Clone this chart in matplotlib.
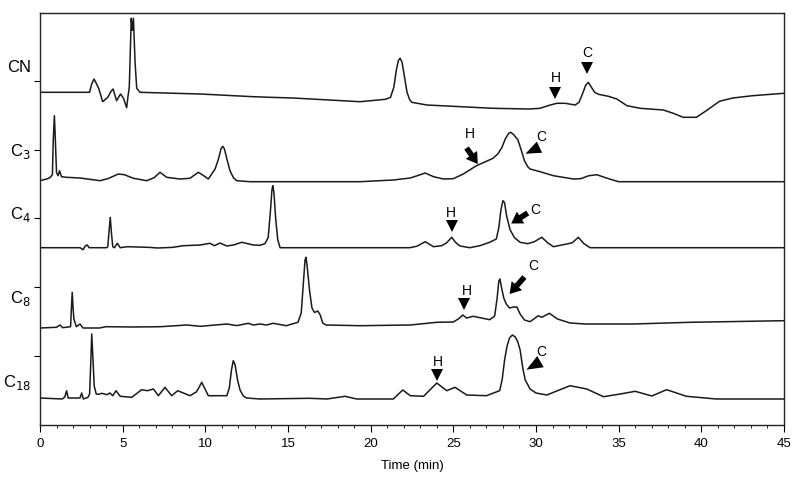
import matplotlib
matplotlib.use("Agg")
import matplotlib.pyplot as plt
import numpy as np

plt.rcParams['font.family'] = ['Liberation Sans', 'DejaVu Sans']

# column names, baselines (stack offsets) and y tick positions
labels = ["CN", "C$_3$", "C$_4$", "C$_8$", "C$_{18}$"]
baselines = [332.7, 244.3, 177.3, 97.0, 27.0]
label_y = [354, 270, 207, 123, 39]
ytick_pos = [344, 275, 207, 138, 69]

# traces: (time in min, signal above baseline)
cn = [(0, 0), (3.0, 0), (3.12, 8), (3.27, 13.3), (3.4, 9), (3.55, 4), (3.79, -9.4),
      (4.1, -5), (4.3, 1), (4.42, 3.3), (4.63, -8.4), (4.87, -1.7), (5.05, -6),
      (5.24, -15.4), (5.33, -3), (5.40, 5), (5.46, 40), (5.52, 74), (5.58, 62),
      (5.65, 74), (5.75, 30), (5.85, 4), (6.05, 0), (9.68, -1.7), (12.9, -4.4),
      (13.9, -5), (15.3, -5.7), (19.36, -9.4), (20.9, -7), (21.2, -5), (21.4, 5),
      (21.55, 22), (21.68, 32), (21.78, 34), (21.9, 30), (22.02, 18), (22.2, 0),
      (22.35, -7), (22.48, -10), (23.4, -12.7), (27.4, -16), (29.6, -16.7),
      (30.25, -16), (30.8, -13), (31.26, -11), (31.76, -11), (32.37, -12.7),
      (32.6, -10), (32.85, 0), (33.0, 7), (33.17, 10), (33.35, 5), (33.55, 0),
      (33.78, -2), (34.38, -4), (34.89, -6.7), (35.5, -13.4), (36.3, -16),
      (37.7, -17.7), (38.3, -21), (38.9, -25), (39.7, -25), (40.3, -18.4),
      (41.1, -9), (41.9, -5.7), (43.1, -3.4), (45, -1)]

c3 = [(0, 0), (0.4, 1.7), (0.6, 3), (0.75, 6), (0.8, 40), (0.87, 65), (0.93, 40),
      (1.0, 8), (1.1, 5), (1.18, 10), (1.3, 4), (1.6, 3.4), (2.42, 2.7), (3.63, 0),
      (4.1, 2), (4.74, 6.7), (5.1, 6), (5.65, 2.4), (6.45, 0), (6.9, 3), (7.26, 8.4),
      (7.66, 3.4), (8.47, 1.7), (9.07, 2.4), (9.58, 8.4), (9.9, 5), (10.18, 1.7),
      (10.59, 11.7), (10.8, 22), (10.95, 32), (11.05, 34.4), (11.15, 32),
      (11.3, 22), (11.49, 10), (11.7, 3), (11.9, 0), (12.7, -1), (19.36, -1),
      (21.37, 0.7), (22.4, 2.7), (23.0, 6), (23.3, 7.7), (23.8, 4), (24.4, 1.7),
      (25.0, 2), (25.6, 6.7), (26.4, 15), (27.4, 22.4), (27.7, 27), (27.93, 33),
      (28.15, 42), (28.35, 47.5), (28.47, 48.4), (28.65, 46), (28.9, 41),
      (29.1, 31), (29.3, 20), (29.5, 14), (29.64, 11.7), (30.25, 9), (31.05, 5),
      (32.26, 1.7), (32.7, 2), (33.2, 5), (33.68, 6), (34.2, 3), (34.99, -1),
      (45, -1)]

c4 = [(0, 0), (2.42, 0), (2.6, -2), (2.75, 2), (2.86, 2.7), (2.97, 0), (4.03, 0),
      (4.1, 1), (4.17, 15), (4.25, 30.4), (4.32, 15), (4.4, 1), (4.5, 0),
      (4.68, 4.4), (4.85, 0), (5.3, 1), (6.65, 0.3), (7.1, -0.3), (8.0, 0.3),
      (8.67, 2), (9.68, 2.7), (10.28, 4.4), (10.55, 2), (10.89, 4.7), (11.3, 1.7),
      (11.7, 2.7), (12.2, 5.4), (12.9, 2.7), (13.3, 2.4), (13.6, 4), (13.8, 10),
      (13.93, 35), (14.03, 58), (14.08, 62), (14.15, 55), (14.25, 30), (14.38, 8),
      (14.52, 0), (22.38, 0), (22.8, 1.5), (23.3, 6), (23.6, 3), (23.8, 1),
      (24.3, 2), (24.6, 5), (24.9, 10.4), (25.15, 5), (25.4, 1.7), (26.0, 0),
      (26.6, 2), (27.2, 5.4), (27.6, 8.7), (27.75, 20), (27.88, 38), (28.0, 47),
      (28.1, 45), (28.22, 32), (28.43, 18), (28.7, 10), (29.04, 5.4), (29.5, 4),
      (29.9, 6), (30.35, 10.4), (30.7, 5), (31.05, 1), (31.86, 3.7), (32.2, 5),
      (32.56, 10.4), (32.9, 4), (33.27, 0), (45, 0)]

c8 = [(0, 0), (1.0, 0.7), (1.21, 3), (1.37, 0.3), (1.85, 1.3), (1.9, 20),
      (1.95, 35.7), (2.0, 20), (2.05, 9), (2.2, 1.3), (2.42, 4), (2.6, 0),
      (3.6, 0), (4.0, 1.3), (5.65, 1), (7.3, 1.3), (8.87, 3), (9.7, 1.7),
      (11.3, 4), (11.9, 2.4), (12.6, 4.7), (12.9, 3), (13.3, 4), (13.7, 3),
      (14.1, 4.7), (14.9, 2.3), (15.6, 5.7), (15.8, 15), (15.93, 45), (16.03, 68),
      (16.09, 70.7), (16.17, 60), (16.3, 38), (16.45, 20), (16.6, 15.5),
      (16.8, 17), (16.95, 13), (17.1, 5), (17.3, 3), (19.36, 2.3), (22.4, 3),
      (24.0, 5.7), (25.0, 6), (25.3, 9), (25.57, 13), (25.8, 10), (26.2, 11.7),
      (27.2, 8.3), (27.5, 12), (27.65, 30), (27.75, 47), (27.82, 49), (27.92, 40),
      (28.05, 30), (28.2, 24), (28.4, 20), (28.65, 21), (28.84, 21), (29.04, 14),
      (29.3, 8), (29.64, 6.3), (30.14, 12.3), (30.35, 10.7), (30.81, 14.7),
      (31.3, 9), (32.06, 5), (33.0, 4), (35.9, 4), (39.3, 5.7), (45, 7.3)]

c18 = [(0, 0), (1.35, -1), (1.5, 1), (1.61, 7.3), (1.7, 0), (2.42, 0), (2.52, 5),
       (2.62, -1), (2.9, 0.7), (3.0, 4), (3.07, 35), (3.13, 64), (3.2, 40),
       (3.28, 12), (3.4, 4), (3.55, 3.7), (3.73, 4.7), (4.05, 3.3), (4.23, 5),
       (4.4, 2.3), (4.6, 7.3), (4.85, 1.7), (5.55, 0.7), (6.15, 8.3), (6.5, 7.3),
       (6.86, 9), (7.16, 2.3), (7.56, 10.7), (7.96, 2.3), (8.33, 7.3), (9.07, 2.3),
       (9.45, 6), (9.6, 10), (9.78, 15.7), (9.95, 10), (10.18, 2.3), (11.3, 2.3),
       (11.45, 10), (11.58, 28), (11.69, 37.3), (11.8, 33), (11.95, 18), (12.1, 8),
       (12.3, 2), (12.5, 0), (13.3, -1), (16.3, -0.3), (17.35, -1), (18.45, 1.7),
       (19.16, -1), (21.37, -1), (21.94, 8), (22.4, 2.3), (23.2, 1.7), (24.0, 15),
       (24.6, 7.3), (25.1, 10.7), (25.81, 3), (27.0, 2.3), (27.8, 7.3),
       (27.95, 18), (28.1, 38), (28.25, 52), (28.4, 60), (28.57, 63), (28.75, 61),
       (28.9, 56), (29.04, 48), (29.2, 30), (29.35, 18), (29.64, 9), (30.0, 5),
       (30.65, 3), (32.06, 12.3), (33.07, 9), (34.08, 1.3), (35.09, 4), (36.0, 6.7),
       (37.0, 2), (37.9, 8.3), (39.1, 1.7), (40.9, -1), (45, -1)]

traces = [cn, c3, c4, c8, c18]

# peak markers: (time, y) of the triangles / arrows and their letter
tri_down = [(31.16, 332), (33.07, 357), (24.9, 198.7), (25.65, 121), (24.03, 50.3)]
tri_dl = [(29.85, 276, 205), (29.95, 61, 210)]
arrows = [((25.8, 277), (26.48, 261)), ((29.5, 212), (28.5, 201.5)),
          ((29.3, 148), (28.4, 131))]
letters = [("H", 31.2, 347.7), ("C", 33.13, 373.3), ("H", 26.0, 291.7),
           ("C", 30.3, 288.7), ("H", 24.86, 213.3), ("C", 29.95, 216),
           ("H", 25.81, 135), ("C", 29.84, 160), ("H", 24.06, 63.7),
           ("C", 30.3, 74.3)]


def pointer(deg):
    # isosceles triangle with its tip pointing towards angle deg
    a = np.deg2rad(deg)
    d = np.array([np.cos(a), np.sin(a)])
    p = np.array([-d[1], d[0]])
    tip = d * 1.0
    back = -d * 0.55
    return [tuple(tip), tuple(back + p * 0.62), tuple(back - p * 0.62), tuple(tip)]


fig = plt.figure(figsize=(7.95, 4.81), dpi=100)
ax = fig.add_axes([40 / 795, 55 / 481, 744 / 795, 412 / 481])

for tr, base in zip(traces, baselines):
    arr = np.array(tr)
    ax.plot(arr[:, 0], arr[:, 1] + base, color='#1a1a1a', lw=1.1)

for t, y in tri_down:
    ax.plot(t, y, marker='v', ms=9, color='black', mew=0)
for t, y, deg in tri_dl:
    ax.plot(t, y, marker=pointer(deg), ms=13, color='black', mew=0)
for (t0, y0), (t1, y1) in arrows:
    ax.annotate('', xy=(t1, y1), xytext=(t0, y0),
                arrowprops=dict(arrowstyle='simple,head_width=1.0,head_length=0.8,tail_width=0.4',
                                color='black', lw=0, shrinkA=0, shrinkB=0))
for s, t, y in letters:
    ax.text(t, y, s, ha='center', va='center', fontsize=10)

trans = ax.get_yaxis_transform()
for lab, y in zip(labels, label_y):
    ax.text(-0.012, y, lab, transform=trans, ha='right', va='baseline', fontsize=12)

ax.set_xlim(0, 45)
ax.set_ylim(0, 412)
ax.set_xticks(np.arange(0, 46, 5))
ax.set_xticks(np.arange(0, 46, 1), minor=True)
ax.set_yticks(ytick_pos)
ax.set_yticklabels([])
ax.tick_params(axis='x', which='major', length=5, labelsize=9.5, direction='out')
ax.tick_params(axis='x', which='minor', length=2.5)
ax.tick_params(axis='y', length=4)
for sp in ax.spines.values():
    sp.set_linewidth(1.0)
    sp.set_color('#222222')
ax.set_xlabel("Time (min)", fontsize=9.5, labelpad=7)

fig.savefig("out.png", dpi=100)
